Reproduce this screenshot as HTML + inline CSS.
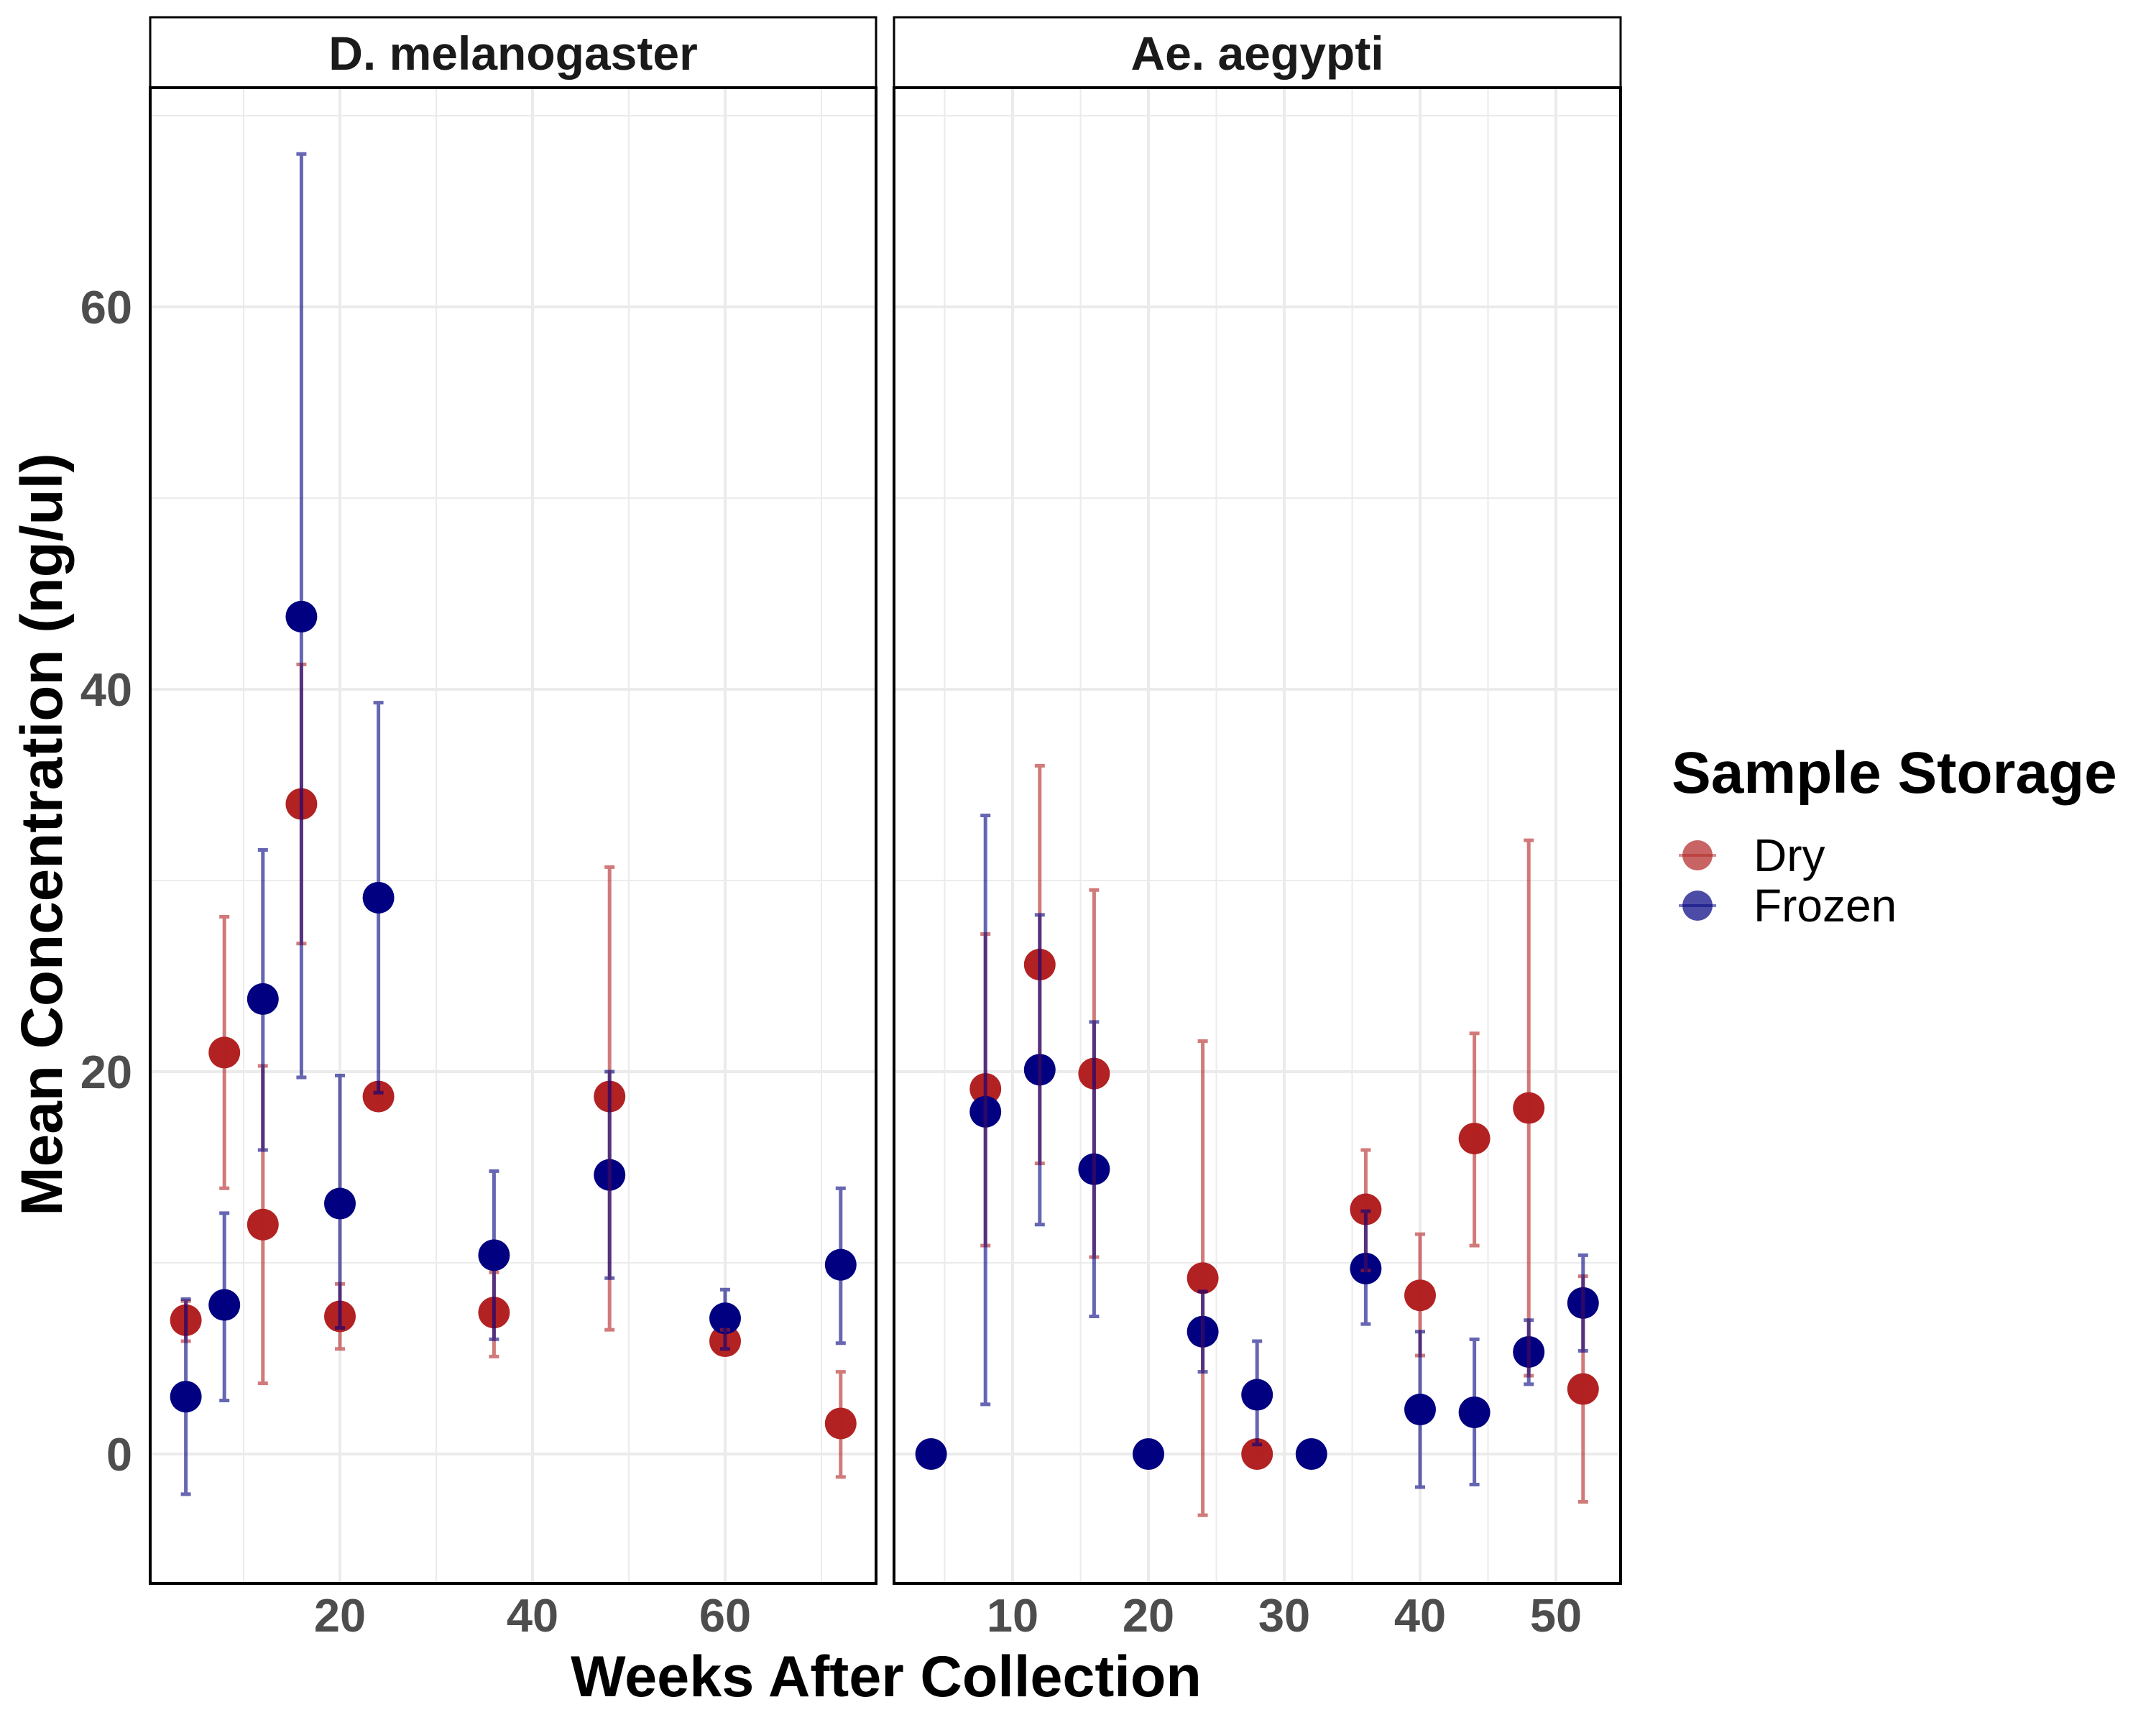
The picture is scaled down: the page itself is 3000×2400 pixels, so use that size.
<!DOCTYPE html>
<html><head><meta charset="utf-8"><style>
html,body{margin:0;padding:0;background:#fff}
svg{display:block}
text{font-family:"Liberation Sans",Arial,sans-serif}
</style></head><body>
<svg id="chart" width="3000" height="2400" viewBox="0 0 3000 2400" xmlns="http://www.w3.org/2000/svg">
<g id="root"></g>
</svg>
<script>
// Panel 1: D. melanogaster
const p1Weeks = [4, 8, 12, 16, 20, 24, 36, 48, 60, 72];
const p1DryMean = [7.0, 21.0, 12.0, 34.0, 7.2, 18.7, 7.4, 18.7, 5.9, 1.6];
const p1DryLo = [5.9, 13.9, 3.7, 26.7, 5.5, 18.7, 5.1, 6.5, 5.5, -1.2];
const p1DryHi = [8.0, 28.1, 20.3, 41.3, 8.9, 18.7, 9.5, 30.7, 6.5, 4.3];
const p1FroMean = [3.0, 7.8, 23.8, 43.8, 13.1, 29.1, 10.4, 14.6, 7.1, 9.9];
const p1FroLo = [-2.1, 2.8, 15.9, 19.7, 6.6, 18.9, 6.0, 9.2, 5.5, 5.8];
const p1FroHi = [8.1, 12.6, 31.6, 68.0, 19.8, 39.3, 14.8, 20.0, 8.6, 13.9];
// Panel 2: Ae. aegypti
const p2DryWeeks = [8, 12, 16, 24, 28, 36, 40, 44, 48, 52];
const p2DryMean = [19.1, 25.6, 19.9, 9.2, 0, 12.8, 8.3, 16.5, 18.1, 3.4];
const p2DryLo = [10.9, 15.2, 10.3, -3.2, 0, 9.6, 5.15, 10.9, 4.1, -2.5];
const p2DryHi = [27.2, 36.0, 29.5, 21.6, 0, 15.9, 11.5, 22.0, 32.1, 9.3];
const p2FroWeeks = [4, 8, 12, 16, 20, 24, 28, 32, 36, 40, 44, 48, 52];
const p2FroMean = [0, 17.9, 20.1, 14.9, 0, 6.4, 3.1, 0, 9.7, 2.33, 2.18, 5.34, 7.9];
const p2FroLo = [0, 2.6, 12.0, 7.2, 0, 4.3, 0.5, 0, 6.8, -1.73, -1.6, 3.65, 5.4];
const p2FroHi = [0, 33.4, 28.2, 22.6, 0, 8.5, 5.9, 0, 12.7, 6.4, 6.0, 7.0, 10.4];
// Axis ticks
const yTicks = [0, 20, 40, 60];
const yMinor = [10, 30, 50, 70];
const p1XTicks = [20, 40, 60];
const p1XMinor = [10, 30, 50, 70];
const p2XTicks = [10, 20, 30, 40, 50];
const p2XMinor = [5, 15, 25, 35, 45, 55];

const NS = "http://www.w3.org/2000/svg";
const root = document.getElementById('root');
function mk(tag, attrs, parent) {
  const e = document.createElementNS(NS, tag);
  for (const k in attrs) e.setAttribute(k, attrs[k]);
  (parent || root).appendChild(e);
  return e;
}
const TOP = 122, BOT = 2203;
function yScale(v) { return 2023 - v * 26.6; }
const panels = [
  {name: 'd-melanogaster', title: 'D. melanogaster', left: 209, right: 1219, x0: 205, k: 13.4, ticks: p1XTicks, minor: p1XMinor},
  {name: 'ae-aegypti', title: 'Ae. aegypti', left: 1244, right: 2255, x0: 1220, k: 18.9, ticks: p2XTicks, minor: p2XMinor}
];
function drawPanel(p) {
  const g = mk('g', {});
  
  
  const xs = v => p.x0 + v * p.k;
  const clip = mk('clipPath', {id: 'clip-' + p.name}, g);
  mk('rect', {x: p.left, y: TOP, width: p.right - p.left, height: BOT - TOP}, clip);
  const grid = mk('g', {'clip-path': 'url(#clip-' + p.name + ')'}, g);
  
  
  yMinor.forEach(v => { mk('line', {x1: p.left, x2: p.right, y1: yScale(v), y2: yScale(v), stroke: '#ebebeb', 'stroke-width': 2}, grid); });
  p.minor.forEach(v => { mk('line', {x1: xs(v), x2: xs(v), y1: TOP, y2: BOT, stroke: '#ebebeb', 'stroke-width': 2}, grid); });
  yTicks.forEach(v => { mk('line', {x1: p.left, x2: p.right, y1: yScale(v), y2: yScale(v), stroke: '#ebebeb', 'stroke-width': 4}, grid); });
  p.ticks.forEach(v => { mk('line', {x1: xs(v), x2: xs(v), y1: TOP, y2: BOT, stroke: '#ebebeb', 'stroke-width': 4}, grid); });
  const strip = mk('rect', {x: p.left, y: 24, width: p.right - p.left, height: TOP - 24, fill: '#fff', stroke: '#000', 'stroke-width': 3}, g);
  
  
  const st = mk('text', {x: (p.left + p.right) / 2, y: 97, 'text-anchor': 'middle', 'font-size': 66, 'font-weight': 'bold', fill: '#1a1a1a'}, g);
  st.textContent = p.title;
  
  
  p.ticks.forEach(v => {
    const t = mk('text', {x: xs(v), y: 2270, 'text-anchor': 'middle', 'font-size': 65, 'font-weight': 'bold', fill: '#4d4d4d'}, g);
    t.textContent = v;
    
    
  });
  p.xs = xs;
  p.g = g;
}
function drawSeries(p, weeks, mean, lo, hi, color, sname) {
  const pts = mk('g', {}, p.g);
  
  
  weeks.forEach((w, i) => {
    const c = mk('circle', {cx: p.xs(w), cy: yScale(mean[i]), r: 22, fill: color}, pts);
    
    
  });
  return () => {
    const eb = mk('g', {stroke: color, 'stroke-opacity': 0.6, 'stroke-width': 5}, p.g);
    
    
    weeks.forEach((w, i) => {
      const x = p.xs(w), y1 = yScale(lo[i]), y2 = yScale(hi[i]);
      const path = mk('path', {d: `M${x-7},${y1}H${x+7}M${x},${y1}V${y2}M${x-7},${y2}H${x+7}`, fill: 'none'}, eb);
      
      
    });
  };
}
panels.forEach(drawPanel);
const P1 = panels[0], P2 = panels[1];
const e1 = drawSeries(P1, p1Weeks, p1DryMean, p1DryLo, p1DryHi, '#b22222', 'dry');
const e2 = drawSeries(P1, p1Weeks, p1FroMean, p1FroLo, p1FroHi, '#000080', 'frozen');
e1(); e2();
const e3 = drawSeries(P2, p2DryWeeks, p2DryMean, p2DryLo, p2DryHi, '#b22222', 'dry');
const e4 = drawSeries(P2, p2FroWeeks, p2FroMean, p2FroLo, p2FroHi, '#000080', 'frozen');
e3(); e4();
panels.forEach(p => {
  const b = mk('rect', {x: p.left, y: TOP, width: p.right - p.left, height: BOT - TOP, fill: 'none', stroke: '#000', 'stroke-width': 4}, p.g);
  
  
});
yTicks.forEach(v => {
  const t = mk('text', {x: 184, y: yScale(v) + 23, 'text-anchor': 'end', 'font-size': 65, 'font-weight': 'bold', fill: '#4d4d4d'});
  t.textContent = v;
  
  
});
</script>
<div style="position:absolute;left:0;top:0;width:3000px;height:2400px;pointer-events:none">
<svg width="3000" height="2400" style="position:absolute;left:0;top:0">
  <text x="1233" y="2360" text-anchor="middle" font-size="81" font-weight="bold" fill="#000">Weeks After Collection</text>
  <text transform="translate(86,1161) rotate(-90)" text-anchor="middle" font-size="82" font-weight="bold" fill="#000">Mean Concentration (ng/ul)</text>
  <g>
    <text x="2326" y="1103" font-size="82" font-weight="bold" fill="#000">Sample Storage</text>
    <g>
      <line x1="2336" x2="2388" y1="1190" y2="1190" stroke="#b22222" stroke-opacity="0.5" stroke-width="4"/>
      <circle cx="2362" cy="1190" r="21" fill="#b22222" fill-opacity="0.7"/>
      <text x="2440" y="1212" font-size="64" fill="#000">Dry</text>
    </g>
    <g>
      <line x1="2336" x2="2388" y1="1260" y2="1260" stroke="#000080" stroke-opacity="0.5" stroke-width="4"/>
      <circle cx="2362" cy="1260" r="21" fill="#000080" fill-opacity="0.7"/>
      <text x="2440" y="1282" font-size="64" fill="#000">Frozen</text>
    </g>
  </g>
</svg>
</div>
</body></html>
